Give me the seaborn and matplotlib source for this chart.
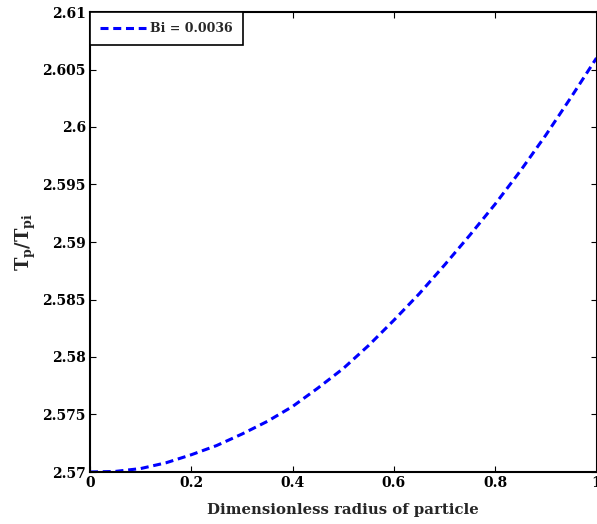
import matplotlib
matplotlib.use("Agg")
import matplotlib.pyplot as plt
import seaborn as sns
import pandas as pd

radius = [0.0, 0.05, 0.1, 0.15, 0.2, 0.25, 0.3, 0.35, 0.4, 0.45, 0.5,
          0.55, 0.6, 0.65, 0.7, 0.75, 0.8, 0.85, 0.9, 0.95, 1.0]
temp_ratio = [2.5700, 2.57005, 2.5703, 2.5708, 2.5715, 2.5723, 2.5733, 2.5744,
              2.5757, 2.5773, 2.5790, 2.5810, 2.5832, 2.5855, 2.5880, 2.5906,
              2.5933, 2.5962, 2.5993, 2.6026, 2.6060]
series_label = "Bi = 0.0036"
x_ticks = [0, 0.2, 0.4, 0.6, 0.8, 1.0]
x_tick_labels = ["0", "0.2", "0.4", "0.6", "0.8", "1"]
y_ticks = [2.57, 2.575, 2.58, 2.585, 2.59, 2.595, 2.6, 2.605, 2.61]
y_tick_labels = ["2.57", "2.575", "2.58", "2.585", "2.59", "2.595", "2.6", "2.605", "2.61"]

FONT = "DejaVu Serif"

sns.set_style("white")
plt.rcParams["font.family"] = [FONT]
plt.rcParams["font.weight"] = "bold"
plt.rcParams["mathtext.fontset"] = "custom"
plt.rcParams["mathtext.rm"] = FONT + ":bold"
plt.rcParams["mathtext.it"] = FONT + ":bold"
plt.rcParams["mathtext.bf"] = FONT + ":bold"

df = pd.DataFrame({"r": radius, "T": temp_ratio, "series": series_label})

fig = plt.figure(figsize=(5.97, 5.24), dpi=100)
ax = fig.add_axes([90 / 597, 1 - 472 / 524, 506.5 / 597, 460 / 524])

sns.lineplot(data=df, x="r", y="T", hue="series", palette=["#0000ff"],
             ax=ax, linewidth=2.2, dashes=False)
for ln in ax.get_lines():
    ln.set_linestyle((0, (2.62, 1.55)))

ax.set_xlim(0, 1)
ax.set_ylim(2.57, 2.61)
ax.set_xticks(x_ticks)
ax.set_xticklabels(x_tick_labels, fontsize=10, fontweight="bold")
ax.set_yticks(y_ticks)
ax.set_yticklabels(y_tick_labels, fontsize=10, fontweight="bold")
ax.tick_params(direction="in", length=4, width=0.8, top=True, right=True,
               bottom=True, left=True, pad=3, colors="black")
for s in ax.spines.values():
    s.set_color("black")
    s.set_linewidth(1.5)

ax.set_xlabel("Dimensionless radius of particle", fontsize=10.7, fontweight="bold", labelpad=9)
ax.set_ylabel(r"$T_p/T_{pi}$", fontsize=13, labelpad=3)

leg = ax.legend(handles=ax.get_lines()[:1], labels=[series_label], loc="upper left",
                borderaxespad=0, fancybox=False, edgecolor="black", framealpha=1,
                prop={"family": FONT, "weight": "bold", "size": 9},
                handlelength=3.69, handletextpad=0.3, borderpad=0.8)
leg.get_frame().set_linewidth(1.2)

fig.savefig("out.png", dpi=100)
